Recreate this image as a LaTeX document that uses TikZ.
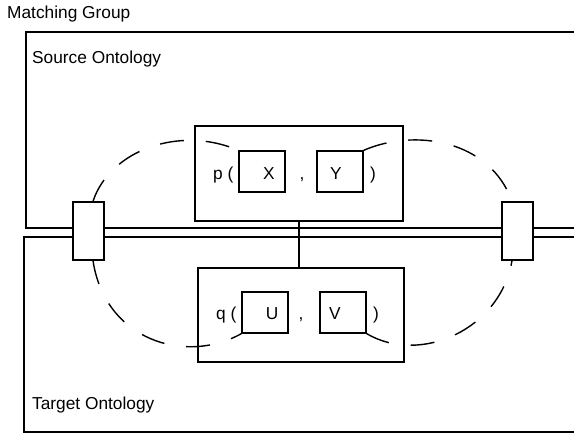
\documentclass[tikz,border=0pt]{standalone}
\usepackage{fontspec}
\setmainfont{Liberation Sans}
\begin{document}
\begin{tikzpicture}[x=1pt,y=-1pt,
  frame/.style={line width=1.5pt},
  pbox/.style={draw,line width=1.4pt,fill=white,minimum width=208pt,minimum height=95pt,inner sep=0pt},
  argbox/.style={draw,line width=1.3pt,fill=white,minimum width=46pt,minimum height=41pt,inner sep=0pt},
  anchorbox/.style={draw,line width=1.4pt,fill=white,minimum width=31pt,minimum height=58pt,inner sep=0pt},
  lbl/.style={font=\fontsize{17.3}{20}\selectfont,inner sep=0pt,anchor=base west},
  clbl/.style={font=\fontsize{17.3}{20}\selectfont,inner sep=0pt,anchor=base},
  link/.style={line width=1.4pt,dash pattern=on 24pt off 22pt}]
\useasboundingbox (0,0) rectangle (574,434);

% captions
\node[lbl] (mg) at (7,18) {Matching Group};
\node[lbl] (so) at (32,63) {Source Ontology};
\node[lbl] (to) at (32,409) {Target Ontology};

% ontology frames, open on the right
\draw[frame] (574,32) -- (26,32) -- (26,228) -- (574,228);
\draw[frame] (574,237) -- (24,237) -- (24,432) -- (574,432);

% predicate boxes
\node[pbox] (p) at (299,173.5) {};
\node[pbox,minimum width=206pt,minimum height=94pt] (q) at (301,315) {};
\draw[line width=1.4pt] (p.south) -- (p.south |- q.north);

% bridge boxes on the border
\node[anchorbox] (lb) at (88.5,231) {};
\node[anchorbox] (rb) at (517.5,231) {};

% argument boxes
\node[argbox] (X) at (262,171.5) {};
\node[argbox] (Y) at (340,171.5) {};
\node[argbox] (U) at (265,312.5) {};
\node[argbox] (V) at (343,312.5) {};

% texts of p( X , Y )
\node[lbl] (pl) at (213,179) {p (};
\node[clbl] (xl) at (269,179) {X};
\node[clbl] (pc) at (302,179) {,};
\node[clbl] (yl) at (336,179) {Y};
\node[clbl] (pr) at (373,179) {)};
% texts of q( U , V )
\node[lbl] (ql) at (216,319) {q (};
\node[clbl] (ul) at (272,319) {U};
\node[clbl] (qc) at (301,319) {,};
\node[clbl] (vl) at (335,319) {V};
\node[clbl] (qr) at (376,319) {)};

% dashed correspondences
\draw[link] ([xshift=4.5pt]lb.north) .. controls (110,150) and (180,125) .. (X.north west);
\draw[link] (Y.north east) .. controls (415,128) and (490,140) .. ([xshift=-5.5pt]rb.north);
\draw[link] ([xshift=4.5pt]lb.south) .. controls (105,340) and (185,365) .. (U.south west);
\draw[link] (V.south east) .. controls (420,365) and (500,330) .. ([xshift=-5.5pt]rb.south);
\end{tikzpicture}
\end{document}
